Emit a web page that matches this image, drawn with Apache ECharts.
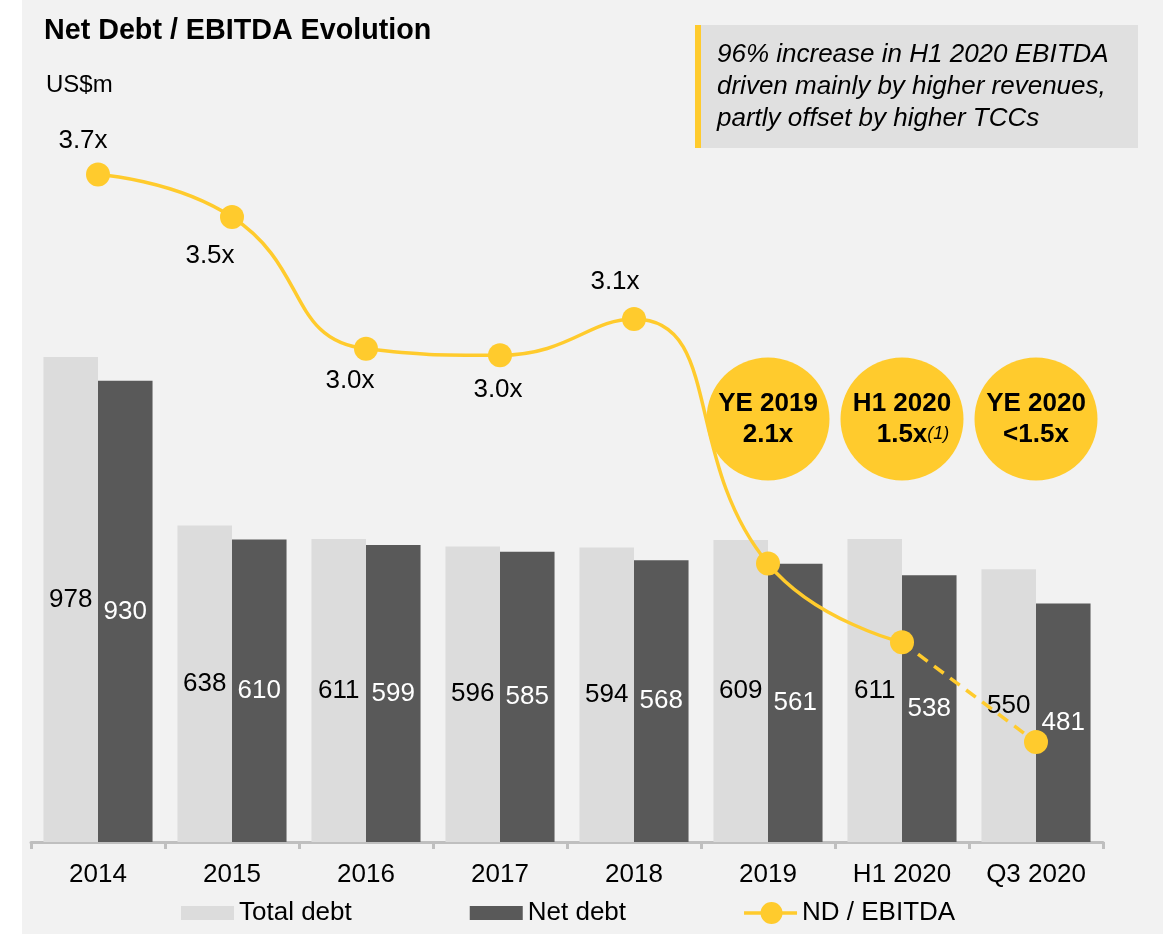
<!DOCTYPE html>
<html>
<head>
<meta charset="utf-8">
<title>Net Debt / EBITDA Evolution</title>
<script src="https://cdn.jsdelivr.net/npm/echarts@6/dist/echarts.min.js"></script>
<style>
  html, body { margin: 0; padding: 0; background: #fff; }
  #chart { width: 1166px; height: 934px; }
</style>
</head>
<body>
<div id="chart"></div>
<script>
var categories = ['2014', '2015', '2016', '2017', '2018', '2019', 'H1 2020', 'Q3 2020'];
var totalDebt = [978, 638, 611, 596, 594, 609, 611, 550];
var netDebt = [930, 610, 599, 585, 568, 561, 538, 481];
// ND / EBITDA as it sits on the chart, and the labels printed next to the points
var ndEbitda = [3.7, 3.5, 2.88, 2.85, 3.02, 1.87, 1.5, 1.03];
var ndEbitdaLabels = ['3.7x', '3.5x', '3.0x', '3.0x', '3.1x', '', '', ''];
// yellow bubbles
var bubbleCategories = ['2019', 'H1 2020', 'Q3 2020'];
var bubbleTitles = ['YE 2019', 'H1 2020', 'YE 2020'];
var bubbleRatios = ['2.1x', '1.5x', '<1.5x'];
var bubbleNotes = ['', '(1)', ''];
var bubbleLevel = 2.55;
var noteLines = ['96% increase in H1 2020 EBITDA', 'driven mainly by higher revenues,', 'partly offset by higher TCCs'];

var FONT = '"Liberation Sans", Arial, sans-serif';
var YELLOW = '#FFCB2D';

// where each ratio label sits around its point
var labelPlace = [
    {position: 'top', distance: 9, offset: [-15, 0]},
    {position: 'bottom', distance: 14, offset: [-22, 0]},
    {position: 'bottom', distance: 7, offset: [-16, 0]},
    {position: 'bottom', distance: 10, offset: [-2, 0]},
    {position: 'top', distance: 12, offset: [-19, 0]}
];

var lineData = ndEbitda.map(function (v, i) {
    if (i > 6) return '-';
    var item = {value: v};
    if (ndEbitdaLabels[i]) {
        item.label = Object.assign({show: true, formatter: ndEbitdaLabels[i]}, labelPlace[i]);
    }
    return item;
});
var dashData = ndEbitda.map(function (v, i) {
    if (i < 6) return '-';
    if (i == 6) return {value: v, symbol: 'none'};
    return v;
});
var bubbleData = bubbleCategories.map(function (c, i) {
    var second = bubbleNotes[i] ? '{pad| }{t|' + bubbleRatios[i] + '}{sup|' + bubbleNotes[i] + '}' : '{t|' + bubbleRatios[i] + '}';
    return {value: [c, bubbleLevel], label: {formatter: '{t|' + bubbleTitles[i] + '}\n' + second}};
});

// legend icons: flat boxes for bars, line with a dot for the ratio
var boxIcon = 'path://M0,0h53v14H0z';
var lineIcon = 'path://M0,9.25h53v3.5H0z M38.5,11a11,11 0 1,1 -22,0a11,11 0 1,1 22,0z';

var myChart = echarts.init(document.getElementById('chart'));
myChart.setOption({
    backgroundColor: '#f2f2f2',
    animation: false,
    textStyle: {fontFamily: FONT},
    title: {
        text: 'Net Debt / EBITDA Evolution',
        left: 44,
        top: 17,
        padding: 0,
        textStyle: {fontSize: 28.7, fontWeight: 'bold', color: '#000', fontFamily: FONT}
    },
    graphic: {
        elements: [
            {type: 'rect', left: 0, top: 0, shape: {width: 22, height: 934}, style: {fill: '#fff'}},
            {type: 'rect', left: 1163, top: 0, shape: {width: 3, height: 934}, style: {fill: '#fff'}},
            {type: 'text', left: 46, top: 73, style: {text: 'US$m', fontSize: 24, fontFamily: FONT, fill: '#000'}},
            {type: 'rect', left: 695, top: 25, shape: {width: 443, height: 123}, style: {fill: '#e0e0e0'}},
            {type: 'rect', left: 695, top: 25, shape: {width: 6, height: 123}, style: {fill: YELLOW}},
            {
                type: 'text', left: 717, top: 39,
                style: {
                    text: noteLines.join('\n'), fontSize: 26, fontStyle: 'italic', fontFamily: FONT,
                    lineHeight: 32, fill: '#000'
                }
            }
        ]
    },
    legend: {
        left: 181,
        top: 900,
        padding: 0,
        itemWidth: 53,
        itemHeight: 22,
        itemGap: 118,
        symbolKeepAspect: true,
        textStyle: {fontSize: 26, color: '#000', fontFamily: FONT},
        data: [
            {name: 'Total debt', icon: boxIcon},
            {name: 'Net debt', icon: boxIcon},
            {name: 'ND / EBITDA', icon: lineIcon}
        ]
    },
    grid: {left: 31, right: 63, top: 98, bottom: 92},
    xAxis: {
        type: 'category',
        data: categories,
        axisLine: {lineStyle: {color: '#bfbfbf', width: 3}},
        axisTick: {show: true, length: 7, lineStyle: {color: '#bfbfbf', width: 3}},
        axisLabel: {fontSize: 26, color: '#000', margin: 20, fontFamily: FONT}
    },
    yAxis: [
        {type: 'value', min: 0, max: 1500, show: false},
        {type: 'value', min: 0.56, max: 4.06, show: false}
    ],
    series: [
        {
            name: 'Total debt',
            type: 'bar',
            data: totalDebt,
            barGap: 0,
            barCategoryGap: '18.6%',
            itemStyle: {color: '#dcdcdc'},
            label: {show: true, position: 'inside', fontSize: 26, color: '#000', fontFamily: FONT}
        },
        {
            name: 'Net debt',
            type: 'bar',
            data: netDebt,
            barGap: 0,
            barCategoryGap: '18.6%',
            itemStyle: {color: '#595959'},
            label: {show: true, position: 'inside', fontSize: 26, color: '#fff', fontFamily: FONT}
        },
        {
            name: 'ND / EBITDA',
            type: 'line',
            yAxisIndex: 1,
            data: lineData,
            smooth: 0.5,
            symbol: 'circle',
            symbolSize: 24,
            z: 5,
            itemStyle: {color: YELLOW},
            lineStyle: {color: YELLOW, width: 3.5},
            label: {show: false, fontSize: 26, color: '#000', fontFamily: FONT}
        },
        {
            name: 'ND / EBITDA dashed',
            type: 'line',
            yAxisIndex: 1,
            data: dashData,
            symbol: 'circle',
            symbolSize: 24,
            z: 5,
            itemStyle: {color: YELLOW},
            lineStyle: {color: YELLOW, width: 3.5, type: [12, 8]}
        },
        {
            name: 'bubbles',
            type: 'scatter',
            yAxisIndex: 1,
            data: bubbleData,
            symbolSize: 123,
            z: 6,
            itemStyle: {color: YELLOW, opacity: 1},
            label: {
                show: true,
                position: 'inside',
                rich: {
                    t: {fontSize: 26, fontWeight: 'bold', color: '#000', lineHeight: 31, fontFamily: FONT},
                    sup: {fontSize: 18, fontStyle: 'italic', color: '#000', lineHeight: 31, fontFamily: FONT},
                    pad: {width: 22, fontSize: 18, lineHeight: 31}
                }
            }
        }
    ]
});
</script>
</body>
</html>
